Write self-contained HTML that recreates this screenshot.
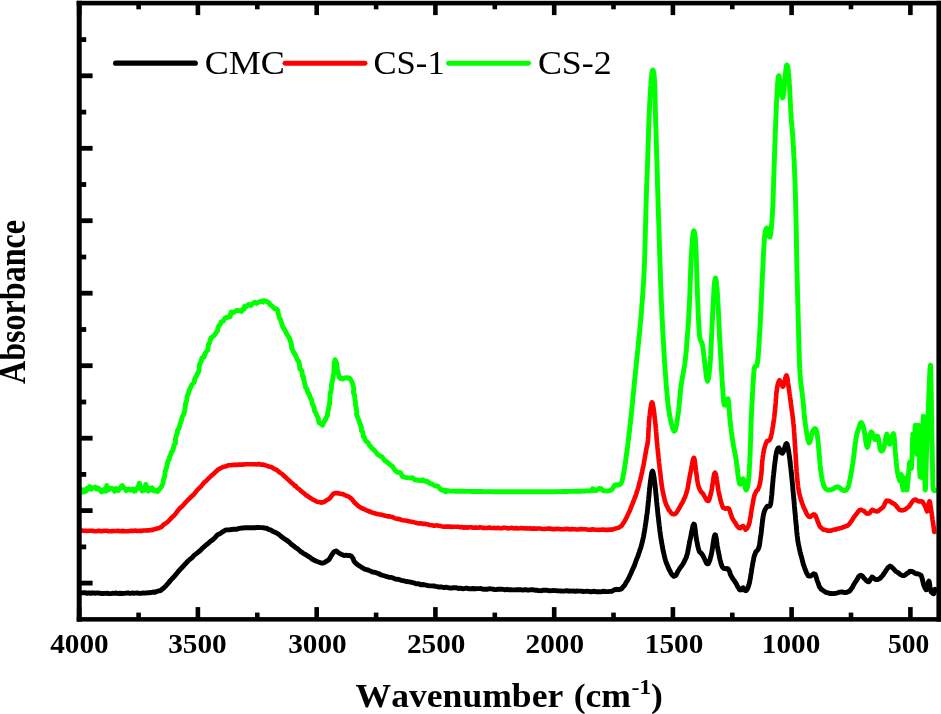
<!DOCTYPE html>
<html><head><meta charset="utf-8"><title>FTIR</title>
<style>html,body{margin:0;padding:0;background:#fff;overflow:hidden}body{width:941px;height:714px;position:relative}</style>
</head><body>
<svg width="941" height="714" viewBox="0 0 941 714" style="position:absolute;left:0;top:0">
<rect width="941" height="714" fill="#fff"/>
<path d="M79.5,490.8 L80.8,490.1 L82.1,492.3 L83.4,489.7 L84.7,491.8 L86.0,491.0 L87.3,488.0 L88.6,489.0 L89.9,486.6 L91.2,489.3 L92.5,488.0 L93.8,487.6 L95.1,487.0 L96.4,489.0 L97.7,487.9 L99.0,488.7 L100.3,490.5 L101.6,491.9 L102.9,490.2 L104.2,489.4 L105.5,491.2 L106.8,485.6 L108.1,490.2 L109.4,489.0 L110.7,488.3 L112.0,488.2 L113.3,489.1 L114.6,491.3 L115.9,488.5 L117.2,490.3 L118.5,490.5 L119.8,488.4 L121.1,486.8 L122.4,485.6 L123.7,488.0 L125.0,488.6 L126.3,490.7 L127.6,489.6 L128.9,489.1 L130.2,490.3 L131.5,489.7 L132.8,489.0 L134.1,491.2 L135.4,490.8 L136.7,488.8 L138.0,487.8 L139.3,483.2 L140.6,487.8 L141.9,490.9 L143.2,489.0 L144.5,490.2 L145.8,484.4 L147.1,488.1 L148.4,491.0 L149.7,488.4 L151.0,489.9 L152.3,487.9 L153.6,490.6 L154.9,491.1 L156.2,490.2 L157.5,491.6 L159.5,489.0 L159.9,488.4 L160.4,488.1 L161.4,486.7 L162.0,485.7 L163.1,482.9 L163.4,479.6 L164.0,478.1 L165.0,475.7 L165.1,471.8 L166.5,467.7 L167.2,464.8 L167.8,461.5 L169.4,458.9 L169.6,456.8 L171.2,453.6 L171.5,452.1 L172.9,450.4 L173.7,447.0 L174.0,444.9 L175.4,443.5 L175.5,438.4 L176.5,434.8 L177.3,433.6 L177.5,430.3 L178.2,429.2 L178.9,428.5 L180.2,423.8 L181.4,420.4 L182.1,417.1 L184.1,413.3 L185.1,408.5 L185.5,404.0 L186.7,400.1 L187.0,396.9 L188.3,393.8 L189.4,389.9 L190.8,387.1 L192.3,384.0 L194.2,382.4 L194.7,378.9 L196.2,376.4 L197.1,374.6 L199.0,370.6 L199.3,366.4 L199.8,363.8 L200.9,361.9 L202.0,357.8 L204.1,357.1 L204.5,355.1 L205.7,352.6 L207.9,349.8 L208.2,346.4 L208.5,344.1 L209.5,342.9 L210.2,340.4 L210.9,338.2 L213.3,336.2 L214.8,334.7 L216.3,332.2 L217.5,330.9 L218.0,327.8 L219.0,325.5 L220.3,324.4 L221.1,322.2 L223.5,320.8 L224.9,318.2 L226.8,317.3 L228.5,317.3 L230.2,316.5 L230.3,314.7 L231.2,312.1 L232.2,312.9 L234.3,312.0 L236.5,310.5 L239.4,310.6 L241.5,311.5 L242.5,309.4 L244.2,309.0 L244.4,306.4 L245.8,307.1 L248.5,304.5 L250.8,305.5 L253.0,303.3 L255.1,302.2 L256.5,303.4 L259.2,301.9 L261.3,301.3 L262.9,301.9 L263.6,300.7 L264.9,300.9 L266.4,301.3 L267.4,301.7 L269.2,303.1 L270.0,304.8 L271.7,305.6 L273.0,307.0 L273.8,308.0 L274.6,308.7 L276.1,308.7 L277.8,310.5 L278.2,313.5 L278.7,314.7 L279.2,317.6 L280.3,319.1 L281.4,322.4 L282.8,326.9 L284.7,329.8 L286.5,333.4 L287.3,334.9 L288.3,336.4 L289.4,338.0 L290.0,340.0 L291.1,342.8 L291.6,345.8 L291.5,347.6 L293.0,350.7 L293.2,351.6 L294.9,354.0 L296.0,356.5 L297.7,360.6 L298.9,361.8 L299.6,365.6 L299.8,368.9 L301.7,370.6 L302.3,372.9 L302.4,376.1 L303.4,376.5 L303.6,379.5 L304.2,380.9 L304.8,384.2 L305.7,387.6 L307.1,389.3 L307.9,392.9 L309.0,393.9 L310.5,398.1 L311.7,399.8 L312.1,403.1 L314.0,407.2 L314.6,411.0 L316.2,413.8 L316.2,414.2 L317.7,417.1 L318.2,418.1 L319.0,422.8 L320.7,423.6 L322.5,425.1 L323.4,422.8 L324.4,421.0 L325.4,419.9 L325.8,418.2 L327.5,415.5 L327.5,413.4 L328.5,409.1 L328.8,406.9 L329.2,405.3 L329.6,403.7 L329.8,400.6 L330.0,397.6 L330.1,394.7 L330.4,393.1 L331.3,389.3 L331.5,388.3 L331.4,385.5 L332.1,382.0 L332.9,379.1 L332.9,377.2 L333.7,373.9 L333.9,372.6 L333.9,369.8 L334.1,365.4 L334.2,362.3 L335.3,360.6 L335.1,359.6 L336.5,362.9 L336.9,365.0 L337.1,368.9 L338.0,371.7 L338.4,374.1 L339.3,377.4 L339.3,377.2 L340.5,378.4 L341.1,378.1 L342.7,379.0 L344.6,378.1 L346.2,377.7 L347.5,378.0 L349.2,378.0 L350.3,379.1 L351.7,381.4 L352.9,384.8 L353.3,386.8 L353.9,388.2 L353.5,391.8 L353.6,393.5 L354.4,394.3 L354.9,398.4 L354.9,400.2 L355.4,401.1 L355.4,404.2 L356.0,407.2 L356.3,408.9 L356.7,411.4 L356.8,412.4 L356.5,414.2 L357.8,417.7 L359.5,421.9 L360.4,425.0 L361.4,427.5 L361.4,430.7 L362.8,432.2 L363.1,434.6 L363.3,436.7 L364.3,437.0 L365.1,439.9 L366.0,441.3 L368.0,442.5 L368.9,444.5 L371.1,447.3 L373.0,449.3 L374.5,450.4 L377.1,453.9 L379.6,455.7 L381.9,456.8 L384.7,460.4 L387.7,462.6 L389.8,464.4 L392.5,466.5 L394.6,469.7 L397.2,472.2 L400.5,472.6 L402.5,476.6 L405.5,477.4 L407.2,477.7 L410.5,477.9 L412.6,477.8 L415.0,479.8 L417.1,480.0 L420.0,480.6 L422.7,479.8 L425.4,481.2 L427.0,481.2 L430.0,483.5 L432.3,484.2 L434.8,485.8 L437.9,486.2 L440.3,489.1 L442.1,490.2 L445.2,490.9 L445.6,490.2 L445.5,491.9 L447.7,490.7 L450.1,491.1 L452.5,491.1 L455.0,491.2 L457.2,491.2 L459.5,491.3 L461.7,491.3 L464.0,491.3 L466.2,491.4 L468.4,491.4 L470.7,491.4 L472.8,491.5 L475.0,491.5 L477.1,491.5 L479.3,491.5 L481.4,491.5 L483.6,491.6 L485.7,491.6 L487.9,491.6 L490.0,491.6 L492.2,491.6 L494.3,491.7 L496.4,491.7 L498.4,491.7 L500.5,491.7 L502.6,491.7 L504.7,491.7 L506.8,491.7 L508.9,491.7 L510.9,491.8 L513.0,491.8 L515.1,491.8 L517.3,491.8 L519.5,491.8 L521.7,491.8 L524.0,491.8 L526.2,491.8 L528.4,491.8 L530.6,491.8 L532.8,491.8 L535.0,491.8 L537.1,491.8 L539.2,491.8 L541.3,491.8 L543.4,491.7 L545.5,491.7 L547.6,491.7 L549.6,491.7 L551.7,491.7 L554.0,491.7 L556.2,491.6 L558.4,491.6 L560.7,491.6 L562.9,491.5 L565.1,491.5 L567.3,491.5 L569.5,491.4 L571.7,491.4 L573.9,491.3 L576.1,491.3 L578.3,491.2 L580.5,491.2 L582.9,491.1 L585.3,491.0 L587.6,490.9 L590.0,490.8 L592.1,490.5 L594.3,490.3 L594.5,489.6 L593.0,489.1 L592.5,488.8 L593.3,489.1 L594.3,489.7 L595.2,490.3 L596.2,490.5 L597.1,490.1 L598.1,489.3 L599.0,488.5 L600.0,488.2 L600.9,488.6 L601.7,489.4 L602.6,490.3 L603.8,490.8 L605.5,490.9 L607.5,490.9 L609.5,490.6 L611.2,490.0 L612.4,488.9 L613.3,487.4 L614.1,486.0 L615.0,485.0 L616.0,484.7 L616.9,484.9 L617.9,485.2 L618.8,485.0 L619.6,484.6 L620.4,484.1 L621.2,483.1 L622.0,481.2 L622.8,478.2 L623.5,474.2 L623.9,472.0 L624.3,469.7 L624.6,467.4 L625.0,465.0 L625.4,462.5 L625.7,460.0 L626.1,457.4 L626.5,454.7 L626.9,451.9 L627.2,449.1 L627.5,447.0 L627.7,445.0 L628.0,443.0 L628.2,441.0 L628.5,439.0 L628.7,436.9 L629.0,434.9 L629.2,432.8 L629.5,430.8 L629.7,428.4 L630.0,426.0 L630.3,423.7 L630.5,421.5 L630.7,419.3 L631.0,417.2 L631.2,415.0 L631.4,412.8 L631.7,410.5 L631.9,408.3 L632.1,406.0 L632.4,403.8 L632.6,401.6 L632.8,399.4 L633.0,397.2 L633.2,395.0 L633.4,392.8 L633.7,390.6 L633.9,388.4 L634.1,386.1 L634.3,383.9 L634.5,381.6 L634.8,379.4 L635.0,377.1 L635.2,375.1 L635.4,373.1 L635.6,371.1 L635.8,369.0 L636.0,367.0 L636.2,365.0 L636.4,362.9 L636.6,360.8 L636.8,358.7 L637.1,356.7 L637.3,354.6 L637.5,352.2 L637.8,349.8 L638.0,347.4 L638.3,345.0 L638.5,342.8 L638.7,340.5 L638.9,338.3 L639.2,336.1 L639.4,333.9 L639.6,331.8 L639.8,329.6 L640.0,327.5 L640.2,324.9 L640.5,322.2 L640.7,319.6 L640.9,317.2 L641.2,314.8 L641.4,312.3 L641.6,310.0 L641.7,307.6 L641.9,305.2 L642.1,302.6 L642.3,300.1 L642.5,297.5 L642.7,294.9 L642.9,292.3 L643.0,289.7 L643.2,287.2 L643.4,284.6 L643.6,282.0 L643.7,279.8 L643.8,277.7 L643.9,275.5 L644.0,273.3 L644.1,271.1 L644.2,269.0 L644.3,266.8 L644.4,264.7 L644.5,262.5 L644.6,260.5 L644.6,258.4 L644.7,256.4 L644.8,254.3 L644.8,252.3 L644.9,250.2 L645.0,248.2 L645.0,246.0 L645.1,243.9 L645.1,241.8 L645.2,239.7 L645.2,237.6 L645.3,235.5 L645.3,233.4 L645.4,231.2 L645.4,229.1 L645.5,227.0 L645.5,224.9 L645.6,222.8 L645.7,220.7 L645.7,218.6 L645.8,216.5 L645.8,214.3 L645.9,212.3 L645.9,210.2 L646.0,208.2 L646.0,206.1 L646.1,204.1 L646.1,202.0 L646.2,200.0 L646.3,197.9 L646.3,195.9 L646.4,193.8 L646.5,191.7 L646.5,189.7 L646.6,187.0 L646.7,184.4 L646.9,181.7 L647.0,179.2 L647.1,176.7 L647.2,174.2 L647.2,171.9 L647.3,169.6 L647.4,167.3 L647.5,165.0 L647.6,162.6 L647.7,160.3 L647.7,157.9 L647.8,155.6 L647.9,153.2 L648.0,151.0 L648.0,148.8 L648.1,146.6 L648.2,144.4 L648.2,142.2 L648.3,140.0 L648.4,137.8 L648.5,135.6 L648.5,133.4 L648.6,131.2 L648.7,129.0 L648.7,126.8 L648.8,124.4 L648.9,122.1 L649.0,119.7 L649.1,117.4 L649.2,115.0 L649.3,112.9 L649.4,110.8 L649.5,108.8 L649.6,106.7 L649.7,104.6 L649.8,102.2 L649.9,99.8 L650.1,97.4 L650.2,95.0 L650.3,92.9 L650.5,90.8 L650.6,88.7 L650.7,86.6 L650.9,84.4 L651.0,82.2 L651.2,80.0 L651.4,77.6 L651.6,75.3 L652.0,72.2 L652.4,70.5 L652.8,70.0 L653.2,70.5 L653.7,72.2 L654.1,75.3 L654.3,77.6 L654.5,80.0 L654.6,82.2 L654.7,84.4 L654.8,86.6 L654.8,88.7 L654.9,90.8 L655.0,92.9 L655.0,95.0 L655.1,97.4 L655.1,99.8 L655.2,102.2 L655.2,104.6 L655.3,106.7 L655.3,108.8 L655.4,110.8 L655.4,112.9 L655.5,115.0 L655.6,117.4 L655.6,119.7 L655.7,122.1 L655.8,124.4 L655.9,126.8 L655.9,129.0 L656.0,131.2 L656.1,133.4 L656.1,135.6 L656.2,137.8 L656.2,140.0 L656.3,142.2 L656.4,144.4 L656.4,146.6 L656.5,148.8 L656.6,151.0 L656.6,153.2 L656.7,155.6 L656.8,157.9 L656.9,160.3 L656.9,162.6 L657.0,165.0 L657.1,167.3 L657.1,169.6 L657.2,171.9 L657.3,174.2 L657.3,176.7 L657.4,179.2 L657.5,181.7 L657.5,184.4 L657.6,187.0 L657.7,189.7 L657.8,191.7 L657.8,193.8 L657.9,195.9 L657.9,197.9 L658.0,200.0 L658.1,202.0 L658.1,204.1 L658.2,206.1 L658.3,208.2 L658.3,210.2 L658.4,212.3 L658.4,214.3 L658.5,216.5 L658.6,218.6 L658.7,220.7 L658.7,222.8 L658.8,224.9 L658.9,227.0 L658.9,229.1 L659.0,231.2 L659.1,233.4 L659.1,235.5 L659.2,237.6 L659.3,239.7 L659.3,241.8 L659.4,243.9 L659.5,246.0 L659.5,248.2 L659.6,250.2 L659.7,252.3 L659.7,254.3 L659.8,256.4 L659.9,258.4 L659.9,260.5 L660.0,262.5 L660.1,264.6 L660.1,266.8 L660.2,268.9 L660.3,271.0 L660.3,273.1 L660.4,275.2 L660.5,277.3 L660.5,279.5 L660.6,281.6 L660.7,284.1 L660.8,286.7 L660.9,289.2 L661.0,291.3 L661.0,293.4 L661.1,295.4 L661.2,297.5 L661.3,299.8 L661.4,302.1 L661.5,304.4 L661.6,306.6 L661.7,309.0 L661.8,311.3 L661.9,313.6 L662.0,315.9 L662.1,318.3 L662.3,320.7 L662.4,323.0 L662.5,325.4 L662.6,327.8 L662.7,330.2 L662.9,332.6 L663.0,335.0 L663.1,337.5 L663.3,340.0 L663.4,342.5 L663.6,344.9 L663.7,347.0 L663.8,349.0 L663.9,351.1 L664.0,353.1 L664.2,355.2 L664.3,357.2 L664.4,359.2 L664.5,361.2 L664.7,363.3 L664.8,365.3 L665.0,367.7 L665.2,370.1 L665.3,372.6 L665.5,375.0 L665.7,377.4 L665.9,379.7 L666.0,382.1 L666.2,384.4 L666.4,386.7 L666.6,389.0 L666.8,391.4 L667.0,393.7 L667.2,395.8 L667.4,398.0 L667.6,400.2 L667.8,402.3 L668.1,404.9 L668.5,407.4 L668.8,410.0 L669.2,412.4 L669.6,414.8 L670.0,417.1 L670.5,419.4 L671.0,421.6 L671.5,423.8 L672.2,426.3 L672.9,428.9 L674.2,431.2 L675.3,430.1 L676.2,426.3 L676.7,423.6 L677.1,420.9 L677.6,417.9 L678.0,415.0 L678.3,412.8 L678.6,410.5 L678.8,408.3 L679.1,405.7 L679.3,403.0 L679.6,400.4 L679.8,398.4 L680.0,396.3 L680.2,394.3 L680.4,392.3 L680.6,389.9 L680.9,387.4 L681.2,385.0 L681.5,383.0 L681.8,381.0 L682.1,379.0 L682.6,376.3 L683.1,373.6 L683.6,370.9 L684.1,368.3 L684.6,365.4 L685.0,362.5 L685.2,360.4 L685.5,358.2 L685.7,356.1 L685.9,353.9 L686.2,351.6 L686.4,349.4 L686.6,347.0 L686.7,344.7 L686.9,342.3 L687.1,339.9 L687.3,337.4 L687.5,335.0 L687.7,332.4 L687.9,329.7 L688.1,327.1 L688.2,325.0 L688.3,322.9 L688.5,320.8 L688.6,318.8 L688.7,316.7 L688.8,314.6 L689.0,312.5 L689.1,310.4 L689.2,307.8 L689.4,305.1 L689.5,302.5 L689.6,300.1 L689.7,297.7 L689.8,295.3 L689.9,293.1 L690.0,290.8 L690.0,288.6 L690.1,286.4 L690.2,284.2 L690.2,281.9 L690.3,279.6 L690.4,277.3 L690.5,275.0 L690.6,272.4 L690.7,269.9 L690.8,267.3 L690.9,265.3 L691.0,263.2 L691.1,261.2 L691.2,259.2 L691.3,256.6 L691.5,254.0 L691.6,251.4 L691.7,249.3 L691.9,247.1 L692.0,245.0 L692.2,242.3 L692.4,239.7 L692.6,237.4 L692.9,235.1 L693.3,232.0 L693.8,230.8 L694.3,231.5 L694.8,233.9 L695.1,236.1 L695.3,238.3 L695.5,240.5 L695.6,242.8 L695.8,245.0 L695.9,247.0 L696.0,249.1 L696.1,251.1 L696.2,253.2 L696.2,255.2 L696.3,257.4 L696.4,259.6 L696.4,261.8 L696.5,264.0 L696.6,266.2 L696.6,268.4 L696.7,270.7 L696.8,273.0 L696.9,275.4 L696.9,277.7 L697.0,280.0 L697.1,282.4 L697.1,284.5 L697.2,286.6 L697.3,288.7 L697.4,290.8 L697.4,292.9 L697.5,295.0 L697.6,297.3 L697.7,299.6 L697.8,301.8 L697.9,304.1 L698.0,306.4 L698.0,308.6 L698.1,310.8 L698.2,313.1 L698.3,315.3 L698.4,317.5 L698.5,320.0 L698.7,322.4 L698.8,324.9 L698.9,327.3 L699.1,329.9 L699.3,332.4 L699.5,335.0 L699.8,337.2 L700.2,339.4 L701.0,341.2 L701.8,342.5 L702.5,345.0 L702.8,347.2 L703.2,349.4 L703.5,352.0 L703.8,354.6 L704.1,357.3 L704.4,360.0 L704.7,362.5 L705.0,365.0 L705.3,367.5 L705.6,370.1 L705.9,372.7 L706.2,375.4 L706.6,377.4 L706.9,379.5 L707.5,381.2 L708.1,379.9 L708.8,376.5 L709.1,373.9 L709.4,371.3 L709.6,369.2 L709.8,367.1 L710.0,365.0 L710.2,362.4 L710.4,359.7 L710.5,357.1 L710.7,354.7 L710.8,352.3 L710.9,349.9 L711.0,347.5 L711.1,345.4 L711.2,343.4 L711.3,341.3 L711.4,339.3 L711.5,337.2 L711.6,334.8 L711.8,332.4 L711.9,329.9 L712.0,327.5 L712.1,325.1 L712.2,322.7 L712.3,320.4 L712.5,318.0 L712.6,315.6 L712.7,313.1 L712.8,310.7 L712.9,308.3 L713.0,306.0 L713.1,303.8 L713.3,301.6 L713.4,299.3 L713.5,296.9 L713.7,294.4 L713.8,292.0 L714.0,289.1 L714.2,286.3 L714.4,284.0 L714.6,281.7 L715.1,278.8 L715.5,278.0 L716.0,279.5 L716.5,283.1 L716.7,285.8 L717.0,288.4 L717.2,290.6 L717.3,292.8 L717.5,295.0 L717.6,297.1 L717.7,299.2 L717.9,301.2 L718.0,303.3 L718.1,305.3 L718.2,307.4 L718.3,309.4 L718.4,311.4 L718.5,313.4 L718.6,315.6 L718.7,317.8 L718.8,319.9 L718.9,322.1 L719.0,324.3 L719.1,326.4 L719.2,328.6 L719.3,330.7 L719.4,332.9 L719.5,335.0 L719.6,337.2 L719.7,339.3 L719.9,341.5 L720.0,343.6 L720.1,345.8 L720.2,348.0 L720.4,350.3 L720.5,352.5 L720.6,354.8 L720.7,357.0 L720.9,359.2 L721.0,361.4 L721.1,363.5 L721.3,365.7 L721.4,367.9 L721.5,370.3 L721.7,372.7 L721.8,375.1 L722.0,377.5 L722.1,379.7 L722.3,381.9 L722.4,384.0 L722.5,386.2 L722.7,388.2 L722.8,390.3 L722.9,392.3 L723.0,394.3 L723.2,396.5 L723.4,398.7 L723.5,400.8 L723.9,402.9 L724.2,405.0 L725.1,405.2 L726.1,402.3 L727.1,399.2 L728.0,398.8 L728.6,402.1 L728.8,404.9 L729.0,407.6 L729.2,409.7 L729.3,411.8 L729.5,413.9 L729.6,416.0 L729.8,418.0 L730.0,420.0 L730.3,422.9 L730.7,425.8 L730.9,427.8 L731.2,429.8 L731.4,431.8 L731.8,434.7 L732.2,437.6 L732.6,440.3 L733.0,443.0 L733.4,445.3 L733.8,447.5 L734.2,449.5 L734.6,451.4 L735.0,453.4 L735.4,455.4 L735.8,457.7 L736.2,460.0 L736.5,462.0 L736.7,464.1 L737.0,466.1 L737.3,468.5 L737.6,470.9 L737.8,473.3 L738.1,475.4 L738.4,477.6 L738.7,479.7 L739.1,481.8 L739.5,483.8 L740.4,484.2 L741.3,482.1 L742.1,479.6 L743.0,478.8 L743.8,481.0 L744.7,484.9 L745.4,488.5 L746.2,490.0 L746.9,489.1 L747.6,486.6 L748.2,482.7 L748.5,480.1 L748.8,477.5 L749.0,475.1 L749.1,472.6 L749.3,470.2 L749.4,467.8 L749.5,465.5 L749.7,463.2 L749.8,460.9 L749.9,458.5 L750.0,456.1 L750.1,453.7 L750.2,451.3 L750.2,449.2 L750.3,447.2 L750.4,445.1 L750.5,443.0 L750.6,440.9 L750.6,438.8 L750.7,436.7 L750.8,434.1 L750.8,431.5 L750.9,428.9 L751.0,426.3 L751.0,424.2 L751.1,422.1 L751.2,420.0 L751.3,417.9 L751.4,415.8 L751.5,413.8 L751.6,411.7 L751.7,409.3 L751.8,406.9 L751.9,404.5 L752.1,402.2 L752.2,399.8 L752.3,397.5 L752.4,395.1 L752.5,392.8 L752.7,390.2 L752.8,387.6 L753.0,385.0 L753.2,382.1 L753.4,379.1 L753.5,376.7 L753.7,374.4 L754.0,370.6 L754.5,367.5 L755.2,366.1 L755.9,366.1 L756.8,365.6 L757.5,362.5 L757.7,360.4 L757.9,358.3 L758.2,356.3 L758.3,354.2 L758.5,352.1 L758.6,350.0 L758.8,348.0 L758.9,345.5 L759.1,343.1 L759.2,340.6 L759.4,338.2 L759.5,336.0 L759.6,333.9 L759.8,331.8 L759.9,329.6 L760.0,327.5 L760.1,325.5 L760.2,323.4 L760.3,321.4 L760.4,319.3 L760.5,317.3 L760.6,315.3 L760.7,312.9 L760.9,310.6 L761.0,308.3 L761.1,306.0 L761.2,303.7 L761.3,301.4 L761.4,299.1 L761.5,296.8 L761.6,294.4 L761.7,292.1 L761.8,289.8 L761.9,287.5 L762.0,285.4 L762.1,283.3 L762.2,281.2 L762.3,279.2 L762.4,277.1 L762.5,275.0 L762.6,272.8 L762.7,270.6 L762.8,268.3 L762.9,266.1 L763.0,263.9 L763.1,261.8 L763.2,259.8 L763.3,257.7 L763.4,255.6 L763.5,253.6 L763.6,251.3 L763.7,249.1 L763.9,246.8 L764.0,244.6 L764.2,242.2 L764.3,239.9 L764.5,237.5 L764.8,235.1 L765.1,232.7 L765.7,229.8 L766.3,228.4 L767.0,228.0 L767.7,229.7 L768.5,233.4 L769.3,236.7 L770.0,237.0 L770.7,233.8 L771.0,231.0 L771.3,228.3 L771.5,225.9 L771.7,223.4 L771.9,221.0 L772.1,218.9 L772.2,216.8 L772.4,214.6 L772.5,212.5 L772.6,210.4 L772.7,208.4 L772.8,206.3 L772.9,204.2 L773.0,202.2 L773.1,200.2 L773.1,198.1 L773.2,196.1 L773.3,194.1 L773.3,192.1 L773.4,190.0 L773.5,187.9 L773.5,185.8 L773.6,183.6 L773.7,181.5 L773.7,179.4 L773.8,177.2 L773.9,175.2 L773.9,173.2 L774.0,171.1 L774.1,169.1 L774.1,167.0 L774.2,165.0 L774.3,162.7 L774.4,160.3 L774.4,158.0 L774.5,155.7 L774.6,153.3 L774.7,151.0 L774.8,148.7 L774.8,146.4 L774.9,144.0 L775.0,141.7 L775.1,139.5 L775.2,137.2 L775.2,135.0 L775.3,132.7 L775.4,130.5 L775.5,128.4 L775.6,126.3 L775.6,124.2 L775.7,122.1 L775.8,120.0 L775.9,118.0 L776.0,116.0 L776.1,114.0 L776.1,112.0 L776.2,109.9 L776.3,107.5 L776.4,105.1 L776.5,102.7 L776.7,100.3 L776.8,98.1 L776.9,96.0 L777.0,93.8 L777.1,91.7 L777.2,89.5 L777.4,87.2 L777.5,85.0 L777.7,82.7 L777.9,80.3 L778.2,77.3 L778.6,75.8 L779.0,75.8 L779.5,77.9 L779.7,79.9 L780.0,81.9 L780.2,84.1 L780.5,86.4 L781.0,90.0 L781.5,93.0 L782.0,96.0 L782.5,97.9 L783.0,97.5 L783.6,93.7 L783.8,91.6 L784.0,89.5 L784.2,87.3 L784.4,85.0 L784.6,82.7 L784.8,80.4 L785.0,77.7 L785.3,75.0 L785.7,71.2 L786.1,68.0 L786.4,65.8 L786.8,65.0 L787.3,65.4 L787.8,66.9 L788.3,69.9 L788.5,72.5 L788.8,75.0 L788.9,77.1 L789.1,79.1 L789.2,81.2 L789.3,83.2 L789.5,85.4 L789.6,87.6 L789.7,89.7 L789.8,91.9 L789.9,94.1 L790.0,96.3 L790.1,98.6 L790.2,100.8 L790.3,103.1 L790.5,105.4 L790.6,107.8 L790.7,110.2 L790.9,112.6 L791.0,115.0 L791.2,117.3 L791.3,119.7 L791.5,122.0 L791.8,124.8 L792.0,127.7 L792.3,130.4 L792.5,133.2 L792.7,135.5 L792.8,137.7 L793.0,140.0 L793.1,142.1 L793.2,144.2 L793.4,146.3 L793.5,148.4 L793.6,150.8 L793.7,153.1 L793.8,155.4 L794.0,157.8 L794.1,160.2 L794.2,162.7 L794.3,165.2 L794.4,167.6 L794.5,170.1 L794.6,172.6 L794.7,175.0 L794.8,177.5 L794.9,180.0 L795.0,182.4 L795.1,184.9 L795.2,187.3 L795.2,189.8 L795.3,192.3 L795.4,194.8 L795.5,197.3 L795.5,199.4 L795.6,201.4 L795.6,203.4 L795.7,205.5 L795.7,207.5 L795.8,209.6 L795.8,211.7 L795.9,213.8 L795.9,215.9 L796.0,218.0 L796.0,220.2 L796.1,222.4 L796.1,224.6 L796.2,226.8 L796.2,229.0 L796.3,231.2 L796.3,233.5 L796.3,235.8 L796.4,238.0 L796.4,240.3 L796.4,242.6 L796.5,244.8 L796.5,247.1 L796.6,249.4 L796.6,251.6 L796.6,253.8 L796.7,256.0 L796.7,258.2 L796.8,260.3 L796.8,262.5 L796.8,264.6 L796.9,266.6 L796.9,268.7 L797.0,270.7 L797.0,272.8 L797.1,275.2 L797.2,277.7 L797.2,280.2 L797.3,282.7 L797.4,285.1 L797.4,287.5 L797.5,289.9 L797.5,292.3 L797.6,294.8 L797.7,297.2 L797.7,299.6 L797.8,302.0 L797.9,304.4 L797.9,306.9 L798.0,309.3 L798.0,311.7 L798.1,314.1 L798.2,316.5 L798.2,319.0 L798.3,321.4 L798.3,323.7 L798.4,326.1 L798.5,328.5 L798.5,330.8 L798.6,333.1 L798.7,335.4 L798.7,337.7 L798.8,340.0 L798.9,342.2 L798.9,344.4 L799.0,346.6 L799.0,348.9 L799.1,351.0 L799.2,353.2 L799.2,355.3 L799.3,357.5 L799.3,359.6 L799.4,361.6 L799.5,363.7 L799.6,365.8 L799.7,368.4 L799.9,371.0 L800.0,373.6 L800.2,376.0 L800.4,378.5 L800.6,380.9 L800.9,383.2 L801.2,385.5 L801.4,387.7 L801.7,389.9 L802.0,392.1 L802.3,394.2 L802.5,396.3 L802.8,398.4 L803.0,400.5 L803.2,402.5 L803.4,404.5 L803.6,406.5 L803.8,409.3 L804.0,412.2 L804.3,414.9 L804.6,417.7 L804.9,420.3 L805.2,423.0 L805.6,426.0 L806.0,428.9 L806.4,431.0 L806.7,433.0 L807.0,435.1 L807.5,437.7 L808.0,440.3 L809.0,443.0 L809.9,442.2 L810.7,438.8 L811.1,436.8 L811.6,434.7 L812.4,431.8 L813.3,430.2 L814.2,429.0 L815.0,428.5 L815.8,429.0 L816.4,430.6 L817.0,433.2 L817.5,436.6 L817.7,438.7 L818.0,440.8 L818.3,443.5 L818.5,446.3 L818.7,448.5 L818.9,450.7 L819.1,452.9 L819.3,455.2 L819.5,457.4 L819.6,459.7 L819.9,462.6 L820.2,465.5 L820.5,467.8 L820.7,470.2 L821.0,472.2 L821.3,474.3 L821.9,477.9 L822.5,481.0 L823.2,483.7 L823.9,485.9 L824.8,487.7 L825.8,489.0 L827.0,489.8 L828.4,490.0 L829.9,489.9 L831.4,489.7 L832.9,489.1 L834.4,488.1 L835.9,487.1 L837.5,486.8 L839.1,487.4 L840.8,488.7 L842.4,490.0 L843.8,490.6 L845.0,490.6 L846.0,490.2 L846.9,489.3 L847.8,487.9 L848.6,485.9 L849.2,483.2 L849.8,480.2 L850.5,476.7 L850.9,474.7 L851.2,472.8 L851.6,470.5 L852.0,468.3 L852.3,466.0 L852.7,463.6 L853.0,461.2 L853.4,458.8 L853.7,456.3 L854.1,453.7 L854.4,451.0 L854.7,448.3 L855.0,445.7 L855.3,443.1 L855.7,440.8 L856.0,438.6 L856.7,435.0 L857.5,432.0 L858.3,429.5 L859.0,427.4 L859.6,425.5 L860.1,423.8 L860.6,422.7 L861.2,422.5 L861.8,423.2 L862.5,424.6 L863.3,426.8 L864.0,429.6 L864.4,431.9 L864.8,434.1 L865.2,437.0 L865.6,440.0 L866.0,442.5 L866.4,445.1 L867.3,447.5 L868.2,445.4 L868.6,442.9 L869.1,440.3 L869.6,437.6 L870.0,434.9 L871.0,431.9 L872.0,432.5 L873.1,435.0 L874.2,438.0 L875.1,439.7 L875.9,439.2 L876.5,437.7 L877.1,436.3 L877.8,436.4 L878.5,439.1 L878.9,441.3 L879.2,443.4 L879.6,445.6 L879.9,447.8 L880.7,450.5 L881.5,451.2 L882.4,450.7 L883.2,449.4 L884.0,447.5 L884.7,444.3 L885.1,442.2 L885.4,440.0 L886.1,436.0 L886.8,434.1 L887.5,435.5 L888.2,439.0 L888.9,442.6 L889.7,444.2 L890.6,442.3 L891.2,440.4 L891.7,438.4 L892.7,434.8 L893.5,433.7 L894.1,436.2 L894.3,438.6 L894.5,440.9 L894.7,443.8 L894.9,446.6 L895.1,449.3 L895.3,452.0 L895.6,454.6 L895.8,457.2 L896.1,459.9 L896.3,462.7 L896.6,465.3 L896.9,467.9 L897.2,470.0 L897.5,472.2 L898.2,475.6 L898.9,478.4 L899.6,480.3 L900.2,481.2 L900.6,480.1 L900.8,477.4 L901.0,475.0 L901.3,474.5 L901.7,477.5 L901.9,480.0 L902.1,482.6 L902.4,485.1 L902.6,487.6 L903.1,490.0 L903.7,488.3 L904.0,486.2 L904.3,484.1 L904.6,481.9 L904.9,479.8 L905.4,477.8 L905.8,479.8 L906.0,482.0 L906.2,484.3 L906.4,486.4 L906.5,488.5 L906.9,490.0 L907.3,487.5 L907.6,485.0 L907.8,482.5 L908.1,479.7 L908.3,476.8 L908.5,474.5 L908.7,472.2 L909.0,468.8 L909.3,465.7 L909.5,463.3 L909.8,462.1 L910.2,463.3 L910.7,466.4 L911.2,468.7 L911.6,467.7 L911.7,465.4 L911.8,463.1 L911.9,460.8 L912.0,458.7 L912.1,456.6 L912.1,454.4 L912.2,452.3 L912.2,450.1 L912.3,448.1 L912.4,446.0 L912.4,443.9 L912.5,441.9 L912.5,439.8 L912.7,436.9 L912.8,434.1 L913.1,436.0 L913.2,438.2 L913.2,440.4 L913.3,442.6 L913.4,444.9 L913.5,447.2 L913.6,449.5 L913.9,452.0 L914.1,449.6 L914.2,447.1 L914.3,444.8 L914.4,442.5 L914.5,440.2 L914.6,437.8 L914.7,435.6 L914.8,433.4 L914.9,431.2 L915.0,428.9 L915.4,425.1 L915.6,427.5 L915.8,429.8 L915.9,431.8 L916.0,433.8 L916.0,435.8 L916.1,437.8 L916.2,439.8 L916.3,442.3 L916.4,444.8 L916.5,447.3 L916.6,449.8 L916.8,452.0 L917.0,454.3 L917.2,451.8 L917.4,449.2 L917.4,447.0 L917.5,444.8 L917.6,442.7 L917.6,440.5 L917.7,438.3 L917.8,436.3 L917.8,434.2 L917.9,432.2 L918.0,430.1 L918.0,428.1 L918.4,425.1 L918.5,427.5 L918.6,429.9 L918.7,432.3 L918.8,434.7 L918.8,436.9 L918.9,439.1 L918.9,441.2 L919.0,443.4 L919.0,445.6 L919.1,447.8 L919.1,450.0 L919.2,452.2 L919.2,454.3 L919.3,456.4 L919.3,458.5 L919.4,460.6 L919.4,462.7 L919.4,464.8 L919.5,466.9 L919.5,469.0 L919.7,471.6 L919.8,474.1 L919.9,476.7 L920.0,474.2 L920.1,471.7 L920.2,469.1 L920.3,467.0 L920.3,464.9 L920.3,462.8 L920.4,460.6 L920.4,458.5 L920.4,456.4 L920.5,454.3 L920.5,452.1 L920.6,450.0 L920.6,447.9 L920.6,445.7 L920.7,443.6 L920.7,441.5 L920.7,439.3 L920.8,437.2 L920.8,435.1 L920.9,432.5 L921.0,430.0 L921.1,427.4 L921.2,429.5 L921.2,431.5 L921.3,433.6 L921.4,435.6 L921.4,437.8 L921.5,440.1 L921.5,442.3 L921.5,444.5 L921.6,446.7 L921.6,448.9 L921.6,451.1 L921.7,453.4 L921.7,455.5 L921.7,457.7 L921.8,459.9 L921.8,462.1 L921.8,464.2 L921.9,466.4 L921.9,468.6 L921.9,470.7 L922.0,473.1 L922.1,475.4 L922.2,477.8 L922.3,475.7 L922.3,473.5 L922.4,471.4 L922.4,469.2 L922.5,467.1 L922.5,464.9 L922.5,462.8 L922.5,460.6 L922.6,458.5 L922.6,456.3 L922.6,454.2 L922.6,452.0 L922.7,449.9 L922.7,447.7 L922.7,445.5 L922.7,443.5 L922.8,441.4 L922.8,439.3 L922.8,437.2 L922.8,435.1 L922.9,433.0 L922.9,431.0 L922.9,428.9 L922.9,426.8 L923.0,424.7 L923.1,422.6 L923.1,420.5 L923.2,418.3 L923.3,416.2 L923.4,418.5 L923.5,420.8 L923.5,423.1 L923.6,425.4 L923.7,427.8 L923.8,429.9 L923.8,432.1 L923.8,434.3 L923.9,436.4 L923.9,438.6 L924.0,440.8 L924.0,442.9 L924.0,445.1 L924.1,447.3 L924.1,449.5 L924.2,451.6 L924.2,453.7 L924.3,455.7 L924.3,457.8 L924.3,459.8 L924.4,461.9 L924.4,463.9 L924.5,466.0 L924.5,468.0 L924.5,470.1 L924.6,472.1 L924.6,474.2 L924.7,476.2 L924.7,478.5 L924.8,480.8 L924.9,483.1 L925.0,485.4 L925.0,487.7 L925.1,490.0 L925.5,488.5 L925.6,486.5 L925.6,484.5 L925.7,482.5 L925.8,480.4 L925.9,478.4 L925.9,476.1 L926.0,473.8 L926.0,471.5 L926.1,469.2 L926.2,466.9 L926.2,464.6 L926.3,462.5 L926.3,460.4 L926.4,458.3 L926.5,456.2 L926.5,454.1 L926.6,452.0 L926.7,449.8 L926.8,447.7 L926.9,445.5 L926.9,443.4 L927.0,441.2 L927.1,438.9 L927.2,436.7 L927.3,434.4 L927.4,432.1 L927.5,429.9 L927.6,427.6 L927.6,425.3 L927.7,423.0 L927.8,420.7 L927.9,418.4 L928.0,416.1 L928.1,413.9 L928.2,411.7 L928.3,409.4 L928.4,407.2 L928.5,405.0 L928.6,402.8 L928.7,400.6 L928.7,398.4 L928.8,396.2 L928.9,394.0 L929.0,391.9 L929.1,389.8 L929.2,387.7 L929.2,385.6 L929.3,383.5 L929.4,381.4 L929.5,379.3 L929.6,377.1 L929.7,374.8 L929.8,372.6 L929.9,370.3 L930.0,368.1 L930.5,365.1 L930.6,367.4 L930.7,369.7 L930.8,372.0 L930.9,374.3 L930.9,376.5 L931.0,378.8 L931.0,381.0 L931.1,383.2 L931.1,385.5 L931.1,387.7 L931.2,390.0 L931.2,392.2 L931.3,394.2 L931.3,396.3 L931.3,398.3 L931.4,400.4 L931.4,402.4 L931.4,404.5 L931.4,406.5 L931.5,408.6 L931.5,410.6 L931.5,412.7 L931.6,414.8 L931.6,416.9 L931.6,419.0 L931.7,421.1 L931.7,423.3 L931.7,425.4 L931.8,427.5 L931.8,429.6 L931.8,431.7 L931.9,433.7 L931.9,435.8 L932.0,437.8 L932.0,439.9 L932.0,441.9 L932.1,444.1 L932.1,446.2 L932.2,448.4 L932.2,450.5 L932.2,452.7 L932.3,455.0 L932.3,457.3 L932.4,459.7 L932.4,462.0 L932.5,464.7 L932.5,467.3 L932.6,470.0 L932.6,472.2 L932.7,474.4 L932.7,476.6 L932.8,479.1 L932.8,481.6 L932.9,485.5 L933.2,488.5 L933.7,490.2 L934.4,490.7 L935.1,490.5 L935.6,490.5" fill="none" stroke="#00ff00" stroke-width="4.9" stroke-linejoin="round" stroke-linecap="round"/>
<path d="M80.0,530.7 L81.9,530.5 L83.8,530.8 L85.7,530.8 L87.3,531.0 L88.9,530.8 L90.6,530.7 L92.2,530.7 L93.8,531.1 L95.7,531.2 L97.6,530.9 L99.4,530.7 L101.3,531.2 L103.2,530.9 L105.0,530.8 L106.8,530.7 L108.7,531.2 L110.5,531.2 L112.3,531.1 L114.2,531.0 L116.2,531.0 L118.1,530.8 L120.0,531.3 L122.1,530.9 L124.2,531.1 L126.2,531.2 L128.1,531.2 L130.0,530.9 L131.9,530.7 L133.6,530.9 L135.3,530.6 L137.0,531.0 L139.2,530.7 L141.4,530.9 L143.2,530.5 L145.0,530.5 L147.6,530.3 L149.2,530.4 L150.2,530.1 L151.0,529.8 L152.0,530.2 L153.1,529.6 L154.1,529.4 L155.1,529.1 L156.0,528.9 L157.0,528.5 L157.9,528.4 L158.8,528.1 L159.6,527.6 L160.7,527.4 L162.0,526.4 L163.7,524.6 L165.6,523.5 L167.8,521.8 L169.9,519.7 L172.0,517.2 L174.0,515.6 L176.0,513.2 L178.0,510.4 L180.0,508.1 L182.0,506.5 L184.0,504.2 L186.0,502.0 L188.0,499.9 L190.0,498.0 L192.0,496.0 L194.0,494.2 L196.0,491.6 L198.0,489.2 L200.0,487.5 L202.0,485.2 L204.0,482.6 L206.1,481.0 L208.2,478.7 L210.2,476.9 L212.0,475.1 L213.7,473.7 L215.2,472.3 L216.6,471.1 L218.0,469.6 L219.5,468.9 L220.9,468.0 L222.3,467.4 L223.6,466.7 L225.2,466.5 L227.0,465.8 L229.1,465.3 L231.5,465.1 L234.1,464.8 L236.8,464.9 L239.5,464.5 L242.4,464.6 L245.6,464.2 L248.7,464.3 L251.8,464.2 L254.5,464.2 L256.8,464.5 L258.9,463.9 L260.7,464.6 L262.6,464.6 L264.5,465.0 L266.5,465.6 L268.5,466.4 L270.5,466.8 L272.5,467.7 L274.5,469.1 L276.5,469.7 L278.4,471.4 L280.3,472.9 L282.3,474.1 L284.5,476.3 L286.8,478.4 L288.1,479.7 L289.3,480.4 L290.6,482.0 L291.8,482.9 L293.1,484.0 L294.4,485.5 L295.7,486.0 L297.0,487.7 L298.3,488.7 L299.6,489.6 L300.9,491.1 L302.3,491.9 L303.6,493.0 L304.9,494.1 L306.2,495.3 L307.5,495.9 L310.0,497.8 L312.4,499.2 L314.8,500.5 L317.1,501.7 L319.2,502.0 L321.2,502.7 L323.0,502.3 L324.6,501.7 L326.0,500.7 L327.4,499.8 L328.8,499.1 L330.1,497.8 L331.2,496.5 L332.3,494.9 L333.5,493.7 L335.0,493.1 L336.8,493.1 L338.9,493.4 L341.1,494.0 L343.2,494.1 L345.0,495.2 L346.5,495.8 L347.7,496.2 L348.8,496.6 L349.9,497.6 L351.2,498.5 L352.5,499.9 L353.8,501.8 L355.3,503.2 L356.9,504.8 L358.8,506.4 L361.1,507.9 L363.8,509.0 L366.6,510.3 L369.6,511.5 L372.5,512.6 L375.4,513.5 L378.3,514.3 L381.3,514.6 L384.3,515.6 L385.9,515.8 L387.5,516.4 L389.1,516.3 L390.8,516.8 L392.5,517.1 L394.2,518.1 L395.9,518.6 L397.7,518.9 L399.5,519.1 L401.3,519.9 L403.1,520.3 L405.0,520.5 L406.9,520.7 L408.8,521.2 L410.7,521.6 L412.6,521.9 L414.5,522.4 L416.5,522.9 L418.6,523.5 L420.6,523.2 L422.8,523.9 L425.0,523.9 L427.2,524.2 L429.5,525.0 L431.8,525.2 L434.0,525.7 L435.6,525.5 L437.3,525.4 L438.9,525.8 L440.6,526.1 L442.4,526.5 L444.1,526.7 L446.1,526.5 L448.0,526.6 L450.0,526.5 L451.6,527.0 L453.3,526.8 L454.9,526.8 L456.5,526.8 L458.3,526.8 L460.1,527.3 L461.9,527.0 L463.6,527.7 L465.5,527.1 L467.4,527.7 L469.3,527.2 L471.2,527.2 L473.2,527.7 L475.2,527.4 L477.2,527.8 L479.2,527.4 L480.8,527.4 L482.5,527.9 L484.2,527.9 L485.8,528.0 L487.5,528.0 L489.2,527.5 L491.0,528.0 L492.7,528.0 L494.5,527.9 L496.2,528.3 L498.0,527.8 L499.8,528.3 L501.7,528.2 L503.5,527.7 L505.3,527.7 L507.2,528.2 L509.1,528.4 L511.0,527.9 L512.9,528.1 L514.8,528.4 L516.4,528.0 L518.1,528.5 L519.8,528.3 L521.4,528.0 L523.1,528.2 L524.7,528.4 L526.4,528.3 L528.1,528.5 L529.9,528.2 L531.6,528.7 L533.3,528.4 L535.0,528.6 L536.6,528.6 L538.3,528.5 L539.9,528.5 L541.6,528.8 L543.2,529.0 L544.9,528.9 L546.5,528.7 L548.3,528.6 L550.1,528.5 L551.9,529.1 L553.8,529.0 L555.6,529.1 L557.4,528.8 L559.2,529.0 L561.0,529.3 L562.8,529.2 L564.6,529.1 L566.5,528.9 L568.3,529.0 L570.1,529.4 L571.9,529.1 L573.5,529.3 L575.2,529.3 L576.8,529.5 L578.5,529.5 L580.1,529.1 L581.8,529.0 L583.4,529.2 L585.2,529.3 L587.0,529.5 L588.9,529.7 L590.7,529.7 L592.5,529.2 L594.6,529.8 L596.6,529.8 L598.7,529.9 L600.7,529.7 L602.8,529.5 L605.5,529.9 L607.7,529.9 L610.0,529.6 L612.4,529.6 L614.3,528.9 L616.0,528.3 L617.4,528.2 L618.8,527.7 L620.0,526.6 L621.0,526.3 L621.9,525.5 L622.8,523.8 L623.8,522.6 L624.9,520.7 L626.1,518.4 L627.4,515.7 L628.7,512.9 L629.3,511.7 L630.0,510.2 L630.7,508.2 L631.5,506.2 L632.2,504.7 L633.0,502.7 L633.8,500.3 L634.6,498.4 L635.4,496.5 L636.1,494.4 L636.8,492.1 L637.5,490.0 L638.1,488.1 L638.7,485.8 L639.2,483.8 L639.7,481.8 L640.2,480.1 L640.7,477.9 L641.2,476.0 L641.6,473.9 L642.1,472.0 L642.5,469.8 L642.9,467.6 L643.4,466.2 L643.8,463.6 L644.2,461.2 L644.5,459.5 L644.9,457.5 L645.3,455.1 L645.6,453.4 L645.9,451.6 L646.2,450.0 L646.7,447.2 L647.1,445.4 L647.4,444.6 L647.7,442.7 L648.0,440.0 L648.1,438.4 L648.3,436.4 L648.3,434.8 L648.4,432.6 L648.5,430.8 L648.6,428.5 L648.8,426.4 L648.9,424.4 L649.0,421.8 L649.2,419.7 L649.4,417.6 L649.7,415.5 L649.9,413.0 L650.2,410.6 L650.5,408.8 L650.8,406.8 L651.1,404.9 L651.4,403.6 L652.0,402.3 L652.6,403.0 L652.9,405.0 L653.2,406.4 L653.6,408.5 L653.9,411.2 L654.1,412.3 L654.3,414.2 L654.5,415.8 L654.7,418.2 L655.0,420.1 L655.2,421.9 L655.4,423.8 L655.6,425.6 L655.8,428.2 L656.0,430.2 L656.1,431.7 L656.3,433.6 L656.4,435.8 L656.6,437.9 L656.8,440.3 L657.0,442.2 L657.2,444.1 L657.3,445.4 L657.5,447.7 L657.7,449.5 L657.9,451.4 L658.1,453.7 L658.3,455.0 L658.5,457.4 L658.8,460.2 L659.0,462.2 L659.2,463.8 L659.4,465.4 L659.6,467.7 L659.9,470.0 L660.1,471.6 L660.3,473.4 L660.5,475.0 L660.7,476.5 L660.8,478.4 L661.1,480.3 L661.4,482.4 L661.6,484.4 L661.9,486.6 L662.2,487.9 L662.5,490.2 L662.9,492.0 L663.4,494.1 L663.9,496.7 L664.3,498.2 L664.8,500.5 L665.3,502.1 L666.4,505.2 L667.5,507.2 L668.7,509.7 L670.0,511.3 L671.3,513.2 L672.6,514.0 L673.8,514.3 L674.8,514.0 L675.8,513.3 L676.7,512.5 L677.7,510.7 L678.8,508.9 L680.2,506.2 L681.0,504.9 L681.8,503.4 L682.6,502.3 L683.4,500.6 L684.1,498.6 L684.9,497.5 L685.6,495.3 L686.2,493.7 L686.7,491.8 L687.2,490.1 L687.6,488.6 L688.0,486.4 L688.3,484.3 L688.7,482.6 L689.0,480.5 L689.3,479.0 L689.6,476.6 L690.0,475.3 L690.4,472.7 L690.8,471.3 L691.2,468.9 L691.6,466.4 L692.0,464.5 L692.4,462.3 L693.1,459.2 L693.8,457.8 L694.4,458.8 L694.9,461.9 L695.1,463.7 L695.3,465.4 L695.5,466.8 L695.7,468.9 L696.0,471.1 L696.2,472.2 L696.7,475.7 L696.9,477.1 L697.1,479.2 L697.3,480.1 L697.6,482.2 L698.1,484.9 L698.8,487.2 L699.7,489.2 L700.7,491.3 L701.7,492.5 L702.8,493.5 L703.8,495.0 L704.7,496.8 L705.6,498.1 L706.4,499.9 L707.2,500.7 L708.0,501.0 L708.7,500.8 L709.3,499.5 L709.9,497.3 L710.5,494.9 L711.2,492.2 L711.6,490.6 L711.9,488.6 L712.2,486.7 L712.4,484.9 L712.7,483.5 L712.9,481.8 L713.2,480.1 L713.5,478.2 L713.8,475.9 L714.2,473.8 L715.0,472.7 L715.8,474.0 L716.1,476.1 L716.5,477.5 L716.8,479.8 L717.0,481.1 L717.3,483.2 L717.5,484.9 L717.8,486.4 L718.0,487.8 L718.4,490.6 L718.8,492.5 L719.2,494.5 L719.6,495.9 L720.0,497.6 L720.4,499.7 L720.8,501.0 L721.2,502.5 L722.1,505.4 L723.0,507.6 L724.1,508.2 L725.3,508.7 L726.6,508.4 L727.8,508.3 L728.8,508.5 L729.6,510.2 L730.2,512.0 L730.7,513.9 L731.3,515.5 L732.0,517.6 L733.0,519.3 L734.2,521.5 L735.4,522.9 L736.6,525.2 L737.5,526.5 L738.2,527.1 L738.7,527.6 L739.1,527.9 L739.5,528.0 L740.0,527.7 L740.6,528.1 L741.2,527.1 L741.9,526.5 L742.6,526.0 L743.2,526.0 L743.8,526.9 L744.4,527.3 L745.0,528.4 L745.6,529.6 L746.2,529.3 L746.9,528.5 L747.5,527.9 L748.2,526.4 L748.9,524.6 L749.5,522.6 L750.0,519.7 L750.5,517.3 L750.8,515.6 L751.0,513.5 L751.2,511.9 L751.5,510.5 L752.0,507.5 L752.6,504.4 L753.1,501.3 L753.7,498.6 L754.3,495.8 L755.0,493.9 L755.7,492.4 L756.5,490.8 L757.3,490.2 L758.1,489.2 L758.8,487.3 L759.4,485.7 L759.9,483.5 L760.4,480.7 L760.8,477.9 L761.2,475.2 L761.4,473.3 L761.5,471.5 L761.7,470.0 L761.8,468.0 L761.9,465.7 L762.1,463.6 L762.2,461.7 L762.4,459.9 L762.6,458.5 L762.8,456.6 L763.1,455.1 L763.3,453.4 L763.7,451.8 L764.0,449.7 L764.7,447.1 L765.4,444.8 L766.2,442.7 L767.0,441.0 L767.9,440.8 L768.8,440.7 L769.7,439.8 L770.6,438.0 L771.0,436.0 L771.4,434.6 L771.9,432.4 L772.3,429.9 L772.5,428.3 L772.8,427.2 L773.1,425.4 L773.3,423.8 L773.6,421.9 L773.8,420.2 L774.1,418.6 L774.3,416.9 L774.5,414.7 L774.7,413.4 L774.9,411.4 L775.1,410.0 L775.2,407.9 L775.4,406.3 L775.5,404.7 L775.7,402.7 L775.8,400.6 L775.9,399.0 L776.1,397.3 L776.2,396.0 L776.3,393.9 L776.6,391.9 L776.8,390.1 L777.3,386.6 L777.8,384.4 L778.3,382.7 L778.9,381.1 L779.5,380.3 L780.1,381.0 L780.8,382.8 L781.6,384.7 L782.3,386.3 L783.0,386.7 L783.7,385.3 L784.4,382.4 L784.8,380.6 L785.2,378.9 L785.9,376.1 L786.5,375.5 L787.1,376.9 L787.6,379.3 L787.8,381.0 L788.0,382.8 L788.3,384.4 L788.5,386.6 L788.8,388.2 L789.0,390.0 L789.3,391.8 L789.5,393.4 L789.8,395.1 L790.0,396.8 L790.3,398.7 L790.5,400.7 L790.8,402.5 L791.0,404.5 L791.3,405.9 L791.5,407.9 L791.7,409.9 L792.0,411.2 L792.4,414.5 L792.6,416.1 L792.8,417.5 L793.0,419.7 L793.2,421.0 L793.4,423.2 L793.6,424.8 L793.8,426.9 L794.0,429.6 L794.1,431.7 L794.3,433.8 L794.4,435.7 L794.5,437.4 L794.6,439.3 L794.7,440.6 L794.8,442.5 L794.9,444.8 L795.1,446.5 L795.2,447.9 L795.3,449.9 L795.4,451.9 L795.6,454.2 L795.7,456.2 L795.8,458.1 L795.9,459.7 L796.0,461.2 L796.1,463.0 L796.2,464.8 L796.3,466.5 L796.4,468.0 L796.5,469.9 L796.6,471.5 L796.8,473.2 L796.9,474.3 L797.0,476.4 L797.2,477.6 L797.3,480.0 L797.5,481.7 L797.8,483.8 L798.0,486.3 L798.3,487.9 L798.6,489.6 L799.2,493.0 L799.9,495.9 L800.6,498.5 L801.4,501.0 L802.2,503.5 L803.1,505.7 L803.9,507.9 L804.8,509.5 L805.6,511.3 L806.4,513.2 L807.2,514.6 L808.1,515.7 L809.0,516.8 L810.1,516.9 L811.2,516.0 L812.5,515.2 L813.6,514.4 L814.6,514.6 L815.4,515.4 L816.1,517.2 L816.8,518.9 L817.4,520.4 L818.0,522.5 L818.6,523.4 L819.1,525.0 L819.7,526.1 L820.3,527.2 L821.1,527.6 L822.1,528.6 L823.2,529.6 L824.5,529.6 L825.8,530.0 L827.2,530.6 L828.7,530.6 L830.4,530.7 L832.1,530.2 L833.9,529.6 L835.6,529.5 L837.3,528.8 L839.1,528.4 L840.8,528.1 L842.5,527.5 L844.0,526.9 L845.3,526.5 L846.5,525.9 L847.6,525.7 L848.6,524.7 L849.7,523.6 L850.8,521.9 L851.9,520.4 L853.1,518.5 L854.2,516.8 L855.3,515.3 L856.4,514.0 L857.5,512.6 L858.6,511.0 L859.7,510.0 L860.9,509.7 L862.3,510.3 L863.7,510.8 L865.2,512.2 L866.7,513.5 L867.9,513.6 L868.9,513.4 L869.7,513.0 L870.5,511.9 L871.2,510.8 L872.1,509.9 L873.1,510.4 L874.2,510.6 L875.4,511.1 L876.6,511.4 L877.7,511.3 L878.9,510.5 L880.1,509.5 L881.2,508.7 L882.3,507.8 L883.3,506.8 L884.1,505.4 L884.7,503.9 L885.3,502.7 L885.9,501.5 L886.6,500.6 L887.5,500.9 L888.6,500.9 L889.6,501.1 L890.7,502.0 L891.7,502.8 L892.6,502.9 L893.4,503.7 L894.3,503.7 L895.1,504.6 L895.9,505.6 L896.7,506.4 L897.5,507.6 L898.3,508.4 L899.2,509.6 L900.1,510.2 L901.2,510.2 L902.3,510.4 L903.5,510.0 L904.6,509.8 L905.7,509.1 L906.6,508.4 L907.5,507.6 L908.3,506.9 L909.1,506.5 L909.9,505.1 L910.7,504.0 L911.6,502.7 L912.4,501.6 L913.3,500.7 L914.1,499.9 L914.9,499.9 L915.8,499.6 L916.6,500.0 L917.5,501.0 L918.3,501.1 L919.2,501.5 L920.0,501.3 L920.9,501.2 L921.7,501.4 L922.5,501.7 L923.2,503.0 L923.7,503.7 L924.3,504.6 L924.8,505.8 L925.3,506.7 L925.8,507.6 L926.2,509.5 L926.7,510.4 L927.1,511.4 L927.5,511.0 L927.9,509.7 L928.3,506.9 L928.7,504.0 L929.1,502.3 L929.5,501.4 L929.9,502.0 L930.3,504.4 L930.7,507.1 L931.1,509.7 L931.5,512.5 L931.9,515.0 L932.2,517.0 L932.5,519.6 L932.8,521.4 L933.1,523.5 L933.4,525.7 L933.7,527.4 L933.9,529.2 L934.1,531.2 L934.3,532.0" fill="none" stroke="#ff0000" stroke-width="4.6" stroke-linejoin="round" stroke-linecap="round"/>
<path d="M80.0,592.9 L81.9,592.9 L83.8,592.7 L85.7,592.8 L87.3,593.3 L88.9,592.9 L90.6,593.4 L92.2,592.9 L93.8,593.0 L95.7,593.2 L97.6,592.9 L99.4,593.1 L101.3,593.5 L103.2,593.5 L105.0,593.4 L106.8,593.3 L108.7,593.5 L110.5,593.6 L112.3,593.3 L114.2,593.4 L116.2,593.0 L118.1,593.5 L120.0,593.3 L122.1,593.5 L124.2,593.4 L126.2,593.1 L128.1,592.9 L130.0,593.5 L131.9,593.0 L133.6,593.2 L135.3,593.1 L137.0,593.0 L139.2,593.3 L141.4,593.4 L143.2,592.9 L145.0,593.1 L147.5,592.8 L149.1,592.9 L150.0,592.7 L150.9,592.5 L152.0,592.3 L153.5,592.0 L155.1,592.2 L156.7,591.5 L158.2,590.9 L159.5,590.9 L160.6,590.5 L161.6,589.7 L162.4,588.9 L163.4,588.3 L164.5,587.2 L165.8,586.0 L167.2,584.3 L168.7,582.6 L170.3,580.6 L172.0,578.8 L173.8,577.0 L175.8,574.6 L177.9,572.0 L180.0,569.7 L182.0,567.5 L184.0,565.3 L186.0,563.2 L188.0,561.0 L190.0,559.2 L192.0,557.8 L194.0,555.4 L196.0,553.9 L198.0,552.3 L200.0,550.8 L202.0,548.6 L204.0,546.8 L206.1,545.0 L208.2,543.3 L210.2,541.6 L212.0,540.3 L213.7,538.8 L215.2,537.5 L216.6,535.6 L218.0,534.5 L219.5,533.9 L220.9,533.1 L222.3,532.0 L223.6,531.3 L225.2,530.2 L227.0,529.9 L229.1,529.9 L231.5,529.5 L234.1,529.3 L236.8,529.2 L239.5,528.4 L242.4,528.0 L245.6,527.8 L248.7,527.8 L251.8,527.6 L254.5,527.7 L256.8,527.5 L258.9,527.5 L260.7,527.6 L262.6,527.6 L264.5,528.0 L266.5,528.2 L268.5,529.4 L270.5,529.8 L272.5,531.3 L274.5,532.1 L276.5,533.0 L278.4,534.1 L280.3,535.6 L282.3,537.3 L284.5,538.9 L286.8,540.3 L289.3,542.2 L290.6,543.6 L291.8,544.7 L293.1,545.5 L294.4,546.5 L295.7,547.7 L297.0,548.3 L298.3,549.4 L299.6,550.5 L300.9,551.8 L302.3,552.5 L303.6,553.6 L304.9,554.2 L307.5,555.8 L310.0,557.3 L312.4,559.3 L314.8,560.5 L317.1,561.5 L319.2,562.2 L321.2,563.0 L323.0,563.1 L324.6,562.4 L326.0,561.5 L327.4,560.8 L328.8,559.8 L330.1,557.8 L331.3,555.6 L332.5,553.8 L333.7,552.1 L335.0,551.3 L336.4,551.0 L337.8,552.2 L339.4,553.3 L340.9,554.2 L342.5,554.8 L344.2,555.6 L346.1,555.2 L347.9,555.6 L349.7,555.4 L351.2,556.0 L352.3,557.5 L353.2,558.7 L353.9,560.9 L354.9,562.3 L356.2,563.6 L358.0,564.9 L360.0,566.3 L362.2,567.7 L364.7,569.1 L367.5,569.8 L369.0,570.5 L370.6,571.0 L372.2,572.1 L373.9,572.1 L375.7,572.6 L377.5,573.2 L379.4,574.0 L381.2,575.0 L383.1,575.5 L385.0,576.0 L386.9,576.7 L388.8,577.2 L390.8,577.4 L392.8,577.8 L394.9,578.9 L396.9,579.3 L398.9,579.4 L401.0,580.3 L403.0,580.6 L405.0,581.1 L407.0,581.5 L408.9,581.8 L410.8,582.1 L412.8,582.7 L414.7,583.2 L416.6,583.9 L418.7,583.7 L420.7,584.7 L422.8,584.5 L425.0,584.9 L427.2,585.5 L429.5,585.9 L431.8,585.9 L434.0,586.0 L435.6,586.4 L437.3,586.6 L438.9,587.1 L440.6,586.8 L442.4,587.1 L444.1,587.6 L446.1,587.2 L448.0,587.6 L450.0,588.0 L451.6,588.1 L453.3,587.6 L454.9,587.7 L456.5,587.8 L458.3,588.5 L460.1,588.1 L461.9,588.5 L463.6,588.7 L465.5,588.3 L467.4,588.3 L469.3,588.9 L471.2,588.7 L473.2,588.5 L475.2,588.8 L477.2,588.6 L479.2,588.6 L480.8,588.5 L482.5,589.1 L484.2,589.2 L485.8,589.1 L487.5,589.3 L489.2,588.7 L491.0,588.9 L492.7,589.1 L494.5,589.5 L496.2,589.6 L498.0,589.2 L499.8,589.2 L501.7,589.3 L503.5,589.4 L505.3,589.8 L507.2,589.3 L509.1,589.8 L511.0,589.8 L512.9,589.9 L514.8,589.9 L516.4,589.8 L518.1,589.7 L519.8,589.7 L521.4,589.8 L523.1,590.1 L524.7,589.7 L526.4,589.8 L528.1,590.2 L529.9,589.9 L531.6,589.8 L533.3,589.8 L535.0,590.2 L536.6,590.1 L538.3,590.6 L539.9,590.6 L541.6,590.7 L543.2,590.2 L544.9,590.1 L546.5,590.2 L548.3,590.5 L550.1,590.7 L551.9,590.6 L553.8,590.5 L555.6,590.6 L557.4,590.8 L559.2,590.9 L561.0,591.0 L562.8,591.1 L564.6,591.0 L566.5,590.7 L568.3,591.2 L570.1,590.9 L571.9,591.1 L573.5,591.0 L575.2,591.3 L576.8,591.0 L578.5,591.1 L580.1,591.1 L581.8,591.1 L583.4,591.6 L585.2,591.4 L587.0,591.3 L588.9,591.4 L590.7,591.8 L592.5,591.5 L594.6,591.3 L596.7,591.8 L598.7,591.7 L600.8,591.9 L602.9,591.3 L605.7,591.5 L607.9,591.6 L610.0,591.4 L612.0,591.2 L613.4,590.3 L614.3,590.0 L615.2,589.5 L616.2,589.3 L617.3,589.7 L618.3,589.5 L619.3,589.7 L620.2,589.2 L621.2,589.1 L622.2,588.0 L623.1,586.8 L624.1,585.9 L625.1,584.6 L626.2,582.2 L627.4,580.6 L628.6,578.4 L629.8,575.6 L631.1,573.0 L631.8,571.3 L632.5,569.8 L633.2,568.0 L634.0,566.5 L634.8,564.5 L635.6,562.1 L636.4,559.8 L637.2,557.9 L638.0,556.0 L638.7,553.6 L639.4,551.8 L640.0,549.8 L640.5,548.6 L641.0,546.9 L641.8,543.8 L642.5,541.2 L643.1,538.5 L643.5,536.8 L643.8,535.1 L644.2,532.5 L644.6,530.4 L644.8,529.1 L645.1,527.3 L645.3,525.6 L645.6,523.8 L645.9,522.5 L646.1,520.3 L646.4,518.8 L646.6,516.8 L646.8,515.1 L647.1,513.7 L647.3,512.1 L647.5,509.9 L647.7,508.1 L647.9,506.7 L648.1,504.6 L648.2,502.7 L648.4,501.5 L648.6,499.4 L648.7,497.9 L648.9,495.9 L649.1,494.5 L649.2,492.5 L649.4,490.7 L649.5,488.9 L649.8,487.2 L650.0,485.1 L650.2,483.3 L650.5,480.8 L650.8,479.3 L651.0,477.3 L651.5,474.2 L652.0,471.8 L652.5,471.0 L653.0,472.0 L653.5,474.5 L654.0,477.1 L654.2,479.2 L654.5,481.3 L654.8,483.4 L655.0,484.8 L655.2,486.8 L655.5,489.5 L655.7,491.9 L655.9,493.9 L656.1,495.4 L656.3,497.7 L656.4,499.0 L656.6,501.2 L656.8,502.8 L656.9,504.7 L657.1,506.1 L657.3,508.4 L657.5,509.8 L657.7,511.9 L657.9,514.1 L658.1,516.0 L658.4,517.6 L658.6,519.7 L658.8,521.9 L659.1,524.1 L659.3,526.1 L659.6,528.0 L659.8,530.2 L660.1,532.5 L660.4,534.7 L660.6,535.9 L660.9,538.2 L661.2,540.2 L661.5,541.4 L661.8,543.7 L662.1,544.9 L662.4,546.8 L662.7,548.4 L663.0,550.1 L663.5,552.1 L664.0,554.4 L664.5,556.6 L665.0,558.6 L665.6,560.7 L666.2,562.5 L666.9,564.3 L667.6,565.8 L668.4,567.9 L669.2,569.6 L670.0,570.9 L670.8,572.8 L672.4,575.1 L673.8,576.2 L674.9,576.1 L675.9,575.4 L676.8,573.6 L677.7,571.7 L678.8,570.0 L680.2,567.7 L681.8,565.7 L683.4,563.2 L684.9,560.1 L686.2,557.6 L686.7,555.6 L687.2,554.5 L687.6,552.7 L688.0,550.8 L688.3,548.7 L688.7,547.1 L689.0,545.2 L689.3,543.8 L689.6,541.5 L690.0,540.2 L690.4,538.4 L690.8,536.4 L691.2,534.3 L691.6,531.8 L692.0,530.4 L692.4,528.1 L693.1,525.4 L693.8,524.1 L694.4,524.4 L694.9,527.4 L695.1,529.2 L695.3,530.4 L695.5,532.4 L695.7,534.5 L696.2,537.3 L696.7,540.5 L697.2,542.8 L697.7,545.8 L698.2,547.7 L698.8,550.0 L699.4,551.7 L700.1,552.2 L700.9,552.9 L701.7,553.9 L702.5,554.9 L703.4,556.5 L704.5,558.9 L705.5,561.1 L706.6,563.4 L707.5,563.9 L708.3,563.6 L709.1,561.9 L709.8,560.4 L710.5,557.5 L711.2,555.0 L711.6,553.1 L712.0,551.0 L712.2,549.6 L712.5,547.7 L712.8,546.0 L713.0,544.4 L713.3,542.1 L713.5,541.0 L713.9,538.7 L714.3,536.4 L715.0,534.7 L715.6,535.1 L716.2,538.4 L716.5,540.0 L716.7,541.8 L717.0,544.2 L717.3,546.2 L717.7,547.9 L718.0,550.2 L718.4,551.5 L718.8,553.9 L719.2,555.5 L719.6,557.7 L720.1,559.9 L720.6,561.6 L721.0,563.4 L721.5,564.9 L722.5,567.2 L723.6,568.4 L724.7,568.6 L725.9,568.7 L727.0,568.4 L728.0,568.8 L728.8,570.2 L729.4,571.1 L729.9,572.7 L730.5,574.7 L731.2,575.9 L732.1,577.4 L733.1,579.2 L734.2,580.6 L735.2,582.3 L736.2,583.6 L737.0,585.3 L737.8,586.8 L738.6,588.0 L739.3,589.4 L740.0,590.0 L740.7,589.8 L741.3,589.9 L742.0,588.7 L742.6,588.0 L743.2,587.7 L743.8,588.5 L744.4,589.6 L745.0,590.4 L745.6,590.8 L746.2,590.6 L746.8,589.7 L747.5,588.8 L748.2,587.1 L748.9,584.8 L749.5,582.6 L750.1,579.4 L750.4,578.0 L750.7,576.0 L751.0,573.7 L751.4,572.3 L751.6,569.8 L751.9,568.3 L752.2,566.6 L752.5,564.8 L753.0,562.0 L753.5,560.0 L753.9,557.3 L754.4,555.7 L755.0,554.1 L755.7,552.1 L756.5,551.1 L757.3,550.5 L758.1,549.2 L758.8,547.6 L759.4,545.3 L759.9,542.0 L760.3,538.9 L760.5,537.3 L760.8,535.5 L761.0,534.4 L761.2,532.7 L761.4,530.9 L761.6,528.7 L761.8,527.4 L762.0,525.5 L762.2,523.5 L762.4,521.8 L762.7,519.9 L762.9,518.0 L763.4,514.9 L764.0,512.6 L764.7,510.4 L765.5,508.9 L766.3,507.7 L767.0,506.4 L767.7,506.1 L768.5,506.3 L769.2,506.3 L769.9,506.0 L770.6,504.0 L770.9,502.2 L771.2,500.0 L771.4,497.9 L771.6,496.3 L771.8,494.7 L772.0,492.1 L772.1,490.4 L772.3,487.7 L772.5,485.7 L772.7,483.6 L772.9,481.8 L773.0,480.1 L773.2,478.1 L773.4,475.9 L773.6,474.6 L773.8,472.5 L774.0,470.7 L774.2,469.5 L774.3,467.6 L774.5,466.0 L774.8,463.6 L775.1,461.4 L775.4,459.0 L775.7,457.2 L775.9,455.4 L776.2,453.9 L776.7,451.2 L777.2,449.8 L777.7,448.7 L778.2,448.0 L778.8,447.8 L779.4,448.7 L780.1,449.9 L780.9,452.2 L781.6,453.0 L782.4,453.3 L783.2,452.0 L784.1,450.0 L785.0,446.7 L785.8,444.3 L786.6,443.5 L787.2,444.4 L787.8,446.8 L788.3,449.5 L788.6,451.2 L788.9,452.9 L789.1,454.3 L789.4,456.5 L789.7,458.4 L790.0,460.8 L790.2,463.1 L790.5,465.6 L790.7,466.7 L790.9,469.0 L791.1,470.8 L791.3,472.7 L791.5,473.9 L791.6,475.8 L791.8,477.6 L792.0,479.4 L792.2,481.8 L792.4,483.8 L792.6,485.6 L792.8,487.7 L792.9,489.6 L793.1,491.4 L793.3,493.4 L793.5,495.5 L793.7,498.1 L793.9,499.8 L794.1,502.0 L794.3,504.2 L794.4,506.0 L794.6,508.2 L794.8,510.2 L795.0,512.6 L795.2,514.3 L795.4,516.2 L795.5,518.7 L795.7,520.4 L795.9,522.6 L796.1,524.4 L796.3,525.9 L796.4,528.1 L796.6,530.1 L796.8,532.1 L797.0,533.6 L797.2,535.7 L797.4,537.2 L797.6,538.6 L797.8,540.7 L798.1,542.2 L798.5,544.8 L798.9,546.2 L799.2,547.8 L799.6,549.6 L800.0,551.6 L800.8,554.7 L801.5,556.9 L802.2,559.8 L802.8,562.2 L803.4,564.6 L804.1,566.2 L804.8,568.4 L805.6,570.2 L806.3,572.5 L807.2,573.9 L808.1,575.7 L809.0,576.1 L810.1,576.1 L811.3,575.8 L812.5,574.7 L813.6,573.8 L814.6,574.1 L815.3,574.5 L815.9,576.3 L816.4,577.9 L816.9,579.7 L817.4,581.1 L817.9,582.3 L818.4,583.9 L818.9,585.3 L819.5,587.1 L820.2,587.7 L821.1,589.3 L822.2,589.7 L823.3,590.7 L824.5,591.4 L825.8,592.5 L827.1,592.7 L828.5,593.0 L829.9,593.6 L831.4,593.4 L832.8,593.6 L834.2,593.5 L835.6,593.4 L837.0,593.0 L838.4,592.5 L839.8,592.1 L841.2,592.0 L842.7,592.0 L844.2,592.6 L845.6,592.5 L846.8,592.4 L847.8,591.7 L848.7,591.4 L849.5,591.1 L850.2,590.3 L851.0,589.1 L851.8,588.2 L852.6,587.2 L853.4,585.2 L854.3,583.7 L855.2,582.3 L856.2,580.9 L857.3,579.2 L858.4,577.0 L859.6,575.7 L860.8,575.2 L862.2,575.9 L863.6,577.6 L865.1,579.2 L866.6,581.0 L867.8,581.7 L868.8,581.9 L869.7,580.7 L870.5,579.0 L871.2,578.4 L872.0,577.1 L872.8,577.4 L873.7,578.3 L874.5,578.9 L875.4,579.4 L876.2,579.6 L877.0,579.4 L877.9,579.6 L878.7,579.0 L879.6,578.6 L880.4,578.1 L881.2,577.0 L882.0,576.2 L882.8,575.3 L883.7,574.0 L884.6,572.6 L885.6,571.3 L886.7,569.5 L887.9,567.7 L889.1,566.8 L890.2,566.1 L891.3,566.7 L892.4,567.7 L893.5,568.7 L894.6,570.1 L895.8,571.4 L897.2,572.1 L898.6,573.0 L900.1,574.4 L901.6,575.2 L902.8,575.6 L903.8,575.6 L904.7,575.3 L905.5,574.7 L906.2,574.1 L907.0,573.5 L907.8,572.9 L908.7,572.5 L909.5,571.5 L910.4,571.3 L911.2,571.4 L912.0,571.5 L912.8,571.9 L913.6,572.2 L914.5,572.9 L915.4,573.5 L916.5,573.9 L917.7,573.8 L918.9,574.2 L920.0,574.8 L921.0,575.2 L921.7,577.1 L922.3,579.2 L922.8,581.2 L923.3,583.5 L923.8,585.5 L924.4,586.3 L924.9,587.9 L925.5,588.7 L926.1,589.7 L926.6,589.7 L927.1,588.2 L927.6,585.8 L928.0,583.7 L928.5,581.7 L928.9,581.2 L929.3,581.9 L929.6,584.0 L930.0,586.7 L930.4,589.0 L930.8,590.7 L931.3,592.2 L932.0,592.6 L932.6,593.4 L933.2,593.5 L933.7,593.8 L934.1,592.9 L934.4,592.6 L934.7,591.0 L934.8,589.8 L935.0,589.2" fill="none" stroke="#000" stroke-width="4.9" stroke-linejoin="round" stroke-linecap="round"/>
<g fill="#000">
<rect x="76.7" y="0.8" width="5.0" height="620.8"/>
<rect x="936.4" y="0.8" width="4.6" height="620.8"/>
<rect x="76.7" y="0.8" width="864.3" height="4.6"/>
<rect x="76.7" y="617.1" width="864.3" height="4.5"/>
<rect x="76.9" y="1" width="4.6" height="14.1"/>
<rect x="76.9" y="607.1" width="4.6" height="12"/>
<rect x="195.6" y="1" width="4.6" height="14.1"/>
<rect x="195.6" y="607.1" width="4.6" height="12"/>
<rect x="314.4" y="1" width="4.6" height="14.1"/>
<rect x="314.4" y="607.1" width="4.6" height="12"/>
<rect x="433.1" y="1" width="4.6" height="14.1"/>
<rect x="433.1" y="607.1" width="4.6" height="12"/>
<rect x="551.9" y="1" width="4.6" height="14.1"/>
<rect x="551.9" y="607.1" width="4.6" height="12"/>
<rect x="670.6" y="1" width="4.6" height="14.1"/>
<rect x="670.6" y="607.1" width="4.6" height="12"/>
<rect x="789.3" y="1" width="4.6" height="14.1"/>
<rect x="789.3" y="607.1" width="4.6" height="12"/>
<rect x="908.1" y="1" width="4.6" height="14.1"/>
<rect x="908.1" y="607.1" width="4.6" height="12"/>
<rect x="136.3" y="1" width="4.6" height="8.3"/>
<rect x="136.3" y="612.6" width="4.6" height="6"/>
<rect x="255.0" y="1" width="4.6" height="8.3"/>
<rect x="255.0" y="612.6" width="4.6" height="6"/>
<rect x="373.8" y="1" width="4.6" height="8.3"/>
<rect x="373.8" y="612.6" width="4.6" height="6"/>
<rect x="492.5" y="1" width="4.6" height="8.3"/>
<rect x="492.5" y="612.6" width="4.6" height="6"/>
<rect x="611.2" y="1" width="4.6" height="8.3"/>
<rect x="611.2" y="612.6" width="4.6" height="6"/>
<rect x="730.0" y="1" width="4.6" height="8.3"/>
<rect x="730.0" y="612.6" width="4.6" height="6"/>
<rect x="848.7" y="1" width="4.6" height="8.3"/>
<rect x="848.7" y="612.6" width="4.6" height="6"/>
<rect x="78" y="73.4" width="14.6" height="4.8"/>
<rect x="78" y="145.9" width="14.6" height="4.8"/>
<rect x="78" y="218.3" width="14.6" height="4.8"/>
<rect x="78" y="290.8" width="14.6" height="4.8"/>
<rect x="78" y="363.3" width="14.6" height="4.8"/>
<rect x="78" y="435.8" width="14.6" height="4.8"/>
<rect x="78" y="508.2" width="14.6" height="4.8"/>
<rect x="78" y="580.7" width="14.6" height="4.8"/>
<rect x="78" y="37.2" width="8.2" height="4.8"/>
<rect x="78" y="109.7" width="8.2" height="4.8"/>
<rect x="78" y="182.1" width="8.2" height="4.8"/>
<rect x="78" y="254.6" width="8.2" height="4.8"/>
<rect x="78" y="327.1" width="8.2" height="4.8"/>
<rect x="78" y="399.6" width="8.2" height="4.8"/>
<rect x="78" y="472.0" width="8.2" height="4.8"/>
<rect x="78" y="544.5" width="8.2" height="4.8"/>
</g>
<g fill="none" stroke-width="4.9" stroke-linecap="round">
<path d="M115.7,63.2 H195.2" stroke="#000" stroke-width="5.3"/>
<path d="M285,63.2 H365" stroke="#f00"/>
<path d="M448.5,63.2 H528.6" stroke="#0f0"/>
</g>
<g font-family="'Liberation Serif', 'Times New Roman', serif" fill="#000" style="font-kerning:none">
<g font-size="33">
<text id="l1" x="204.7" y="73.8" textLength="80.2" lengthAdjust="spacingAndGlyphs">CMC</text>
<text id="l2" x="373.5" y="73.8" textLength="71.2" lengthAdjust="spacingAndGlyphs">CS-1</text>
<text id="l3" x="537.9" y="73.8" textLength="73.8" lengthAdjust="spacingAndGlyphs">CS-2</text>
</g>
<g font-size="26.8" font-weight="bold" text-anchor="middle">
<text x="79.4" y="653" textLength="58.5" lengthAdjust="spacingAndGlyphs">4000</text>
<text x="197.4" y="653" textLength="58.5" lengthAdjust="spacingAndGlyphs">3500</text>
<text x="317.4" y="653" textLength="58.5" lengthAdjust="spacingAndGlyphs">3000</text>
<text x="436.2" y="653" textLength="58.5" lengthAdjust="spacingAndGlyphs">2500</text>
<text x="554.8" y="653" textLength="58.5" lengthAdjust="spacingAndGlyphs">2000</text>
<text x="674.0" y="653" textLength="58.5" lengthAdjust="spacingAndGlyphs">1500</text>
<text x="791.0" y="653" textLength="58.5" lengthAdjust="spacingAndGlyphs">1000</text>
<text x="908.6" y="653" textLength="41.3" lengthAdjust="spacingAndGlyphs">500</text>
</g>
<text id="xl" transform="translate(355.6,707) scale(1.086,1)" font-size="32.8" font-weight="bold">Wavenumber <tspan dx="1.4">(cm</tspan><tspan font-size="22" dy="-12.8" dx="0.4">-1</tspan><tspan dy="12.8" dx="-0.4">)</tspan></text>
<text id="yl" transform="translate(24.6,384) rotate(-90) scale(1,1.19)" font-size="31.8" font-weight="bold" textLength="164" lengthAdjust="spacingAndGlyphs">Absorbance</text>
</g>
</svg>
</body></html>
